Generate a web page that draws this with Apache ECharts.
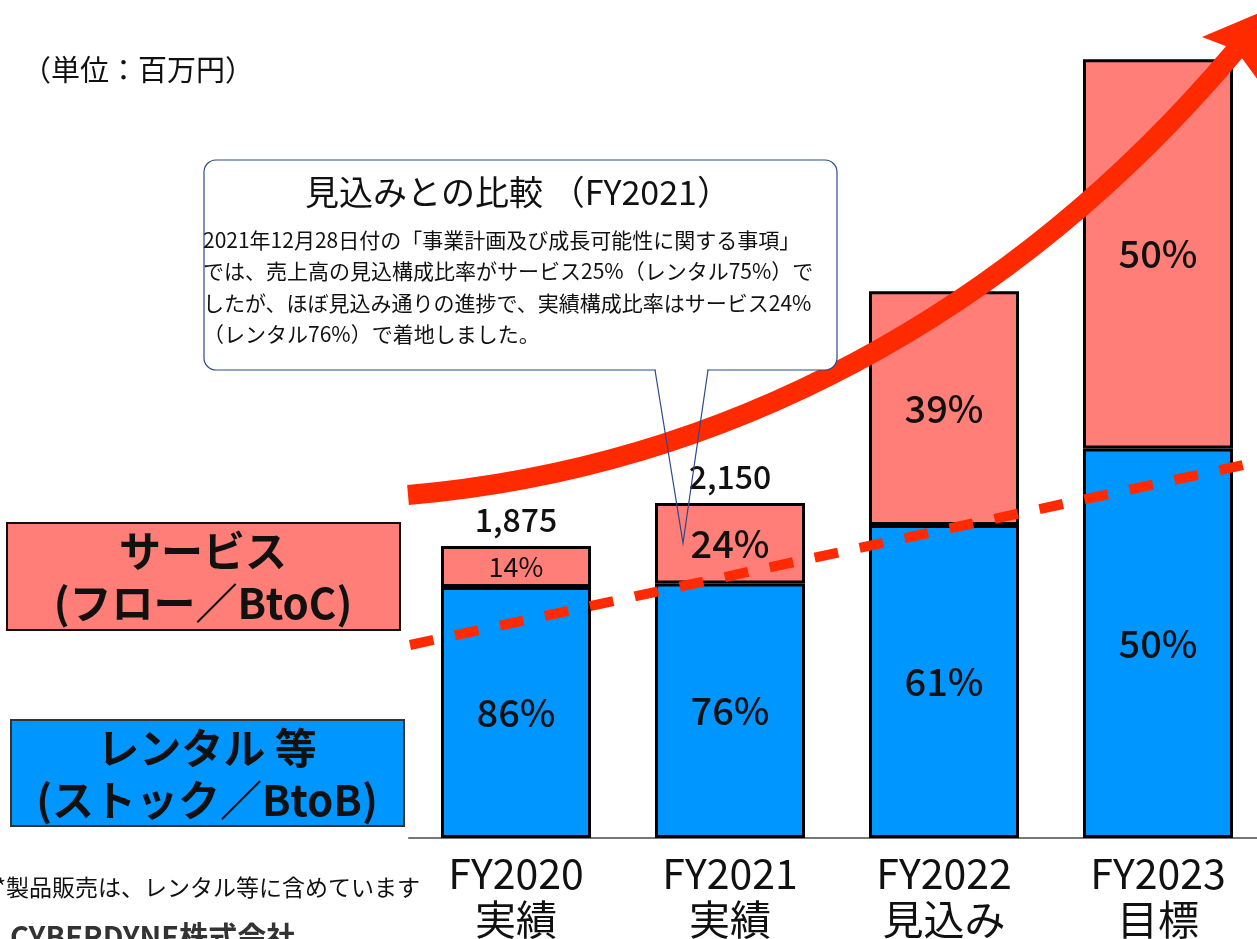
<!DOCTYPE html>
<html>
<head>
<meta charset="utf-8">
<script src="https://cdn.jsdelivr.net/npm/echarts@6/dist/echarts.min.js"></script>
<style>
  html, body { margin: 0; padding: 0; background: #fff; }
  #chart { width: 1257px; height: 939px; }
</style>
</head>
<body>
<div id="chart"></div>
<script>
// 売上構成（百万円）
const categories = ["FY2020", "FY2021", "FY2022", "FY2023"];
const periods = ["実績", "実績", "見込み", "目標"];
const rental = [1612, 1634, 2010, 2500];
const service = [263, 516, 1500, 2500];
const totalLabels = ["1,875", "2,150", "", ""];
const rentalPct = ["86%", "76%", "61%", "50%"];
const servicePct = ["14%", "24%", "39%", "50%"];

const FONT = "Noto Sans CJK JP";
const BLUE = "#0096ff";
const PINK = "#ff7f78";
const RED = "#ff2a00";

const chart = echarts.init(document.getElementById("chart"));

function txt(text, x, y, size, opts = {}) {
  return {
    type: "text",
    z: 120,
    style: {
      text: text,
      x: x,
      y: y,
      fontSize: size,
      fontFamily: FONT,
      fontWeight: opts.weight || "normal",
      fill: opts.color || "#111",
      textAlign: opts.align || "center",
      align: opts.align || "center",
      textVerticalAlign: "middle",
      verticalAlign: "middle"
    }
  };
}

const calloutLines = [
  "2021年12月28日付の「事業計画及び成長可能性に関する事項」",
  "では、売上高の見込構成比率がサービス25%（レンタル75%）で",
  "したが、ほぼ見込み通りの進捗で、実績構成比率はサービス24%",
  "（レンタル76%）で着地しました。"
];

const graphics = [
  // 上昇トレンド（破線）
  {
    type: "line", z: 110,
    shape: { x1: 410, y1: 645, x2: 1262, y2: 461 },
    style: { stroke: RED, lineWidth: 10, lineDash: [24, 22] }
  },
  // 成長矢印
  {
    type: "bezierCurve", z: 110,
    shape: { x1: 408, y1: 495, cpx1: 720, cpy1: 468, cpx2: 1010, cpy2: 318, x2: 1236, y2: 50 },
    style: { stroke: RED, lineWidth: 20, fill: null }
  },
  {
    type: "polygon", z: 110,
    shape: { points: [[1202, 37], [1268, 9], [1258, 80], [1236, 50]] },
    style: { fill: RED }
  },
  // 吹き出し
  {
    type: "rect", z: 115,
    shape: { x: 204, y: 160, width: 633, height: 210, r: 12 },
    style: { fill: "#fff", stroke: "#2b4a8a", lineWidth: 1.2 }
  },
  {
    type: "line", z: 116,
    shape: { x1: 656, y1: 370, x2: 707, y2: 370 },
    style: { stroke: "#fff", lineWidth: 3 }
  },
  {
    type: "polyline", z: 116,
    shape: { points: [[655, 370], [683, 543], [708, 370]] },
    style: { stroke: "#2b4a8a", lineWidth: 1.2, fill: null }
  },
  txt("見込みとの比較 （FY2021）", 518, 192, 34),
  // 凡例ボックス
  {
    type: "rect", z: 100,
    shape: { x: 7, y: 523, width: 393, height: 107 },
    style: { fill: PINK, stroke: "#111", lineWidth: 2 }
  },
  {
    type: "rect", z: 100,
    shape: { x: 11, y: 720, width: 393, height: 106 },
    style: { fill: BLUE, stroke: "#333", lineWidth: 2 }
  },
  txt("サービス", 203, 551, 42, { weight: "bold" }),
  txt("(フロー／BtoC)", 203, 603, 42, { weight: "bold" }),
  txt("レンタル 等", 207, 748, 42, { weight: "bold" }),
  txt("(ストック／BtoB)", 207, 800, 42, { weight: "bold" }),
  txt("（単位：百万円）", 22, 70, 29, { align: "left" }),
  txt("*製品販売は、レンタル等に含めています", 420, 887, 23, { align: "right" }),
  txt("CYBERDYNE株式会社", 10, 937, 29, { align: "left", weight: "bold", color: "#333" })
];

calloutLines.forEach((line, i) => {
  graphics.push(txt(line, 203, 240 + i * 31.5, 21, { align: "left" }));
});

const option = {
  animation: false,
  textStyle: { fontFamily: FONT },
  grid: { left: 409, top: 28, width: 856, height: 810, outerBoundsMode: "none", containLabel: false },
  xAxis: {
    type: "category",
    data: categories,
    axisTick: { show: false },
    axisLine: { lineStyle: { color: "#777", width: 2 } },
    axisLabel: {
      color: "#111",
      fontSize: 41,
      lineHeight: 46,
      margin: 12,
      fontFamily: FONT,
      formatter: (v, i) => v + "\n" + periods[i]
    }
  },
  yAxis: { type: "value", min: 0, max: 5200, show: false },
  series: [
    {
      name: "レンタル 等",
      type: "bar",
      stack: "total",
      barWidth: 150,
      data: rental,
      itemStyle: { color: BLUE, borderColor: "#000", borderWidth: 3 },
      label: {
        show: true,
        position: "inside",
        fontSize: 38,
        fontWeight: 500,
        color: "#111",
        formatter: (p) => rentalPct[p.dataIndex]
      }
    },
    {
      name: "サービス",
      type: "bar",
      stack: "total",
      barWidth: 150,
      data: service.map((v, i) => i === 0 ? { value: v, label: { fontSize: 27, fontWeight: "normal" } } : v),
      itemStyle: { color: PINK, borderColor: "#000", borderWidth: 3 },
      label: {
        show: true,
        position: "inside",
        fontSize: 38,
        fontWeight: 500,
        color: "#111",
        formatter: (p) => servicePct[p.dataIndex]
      }
    },
    {
      name: "合計",
      type: "bar",
      stack: "total",
      barWidth: 150,
      data: categories.map(() => 0),
      itemStyle: { color: "transparent", borderWidth: 0 },
      label: {
        show: true,
        position: "top",
        distance: 10,
        fontSize: 32,
        fontWeight: 500,
        color: "#111",
        formatter: (p) => totalLabels[p.dataIndex]
      }
    }
  ],
  graphic: graphics
};

chart.setOption(option);
window.addEventListener("resize", () => chart.resize());
</script>
</body>
</html>
